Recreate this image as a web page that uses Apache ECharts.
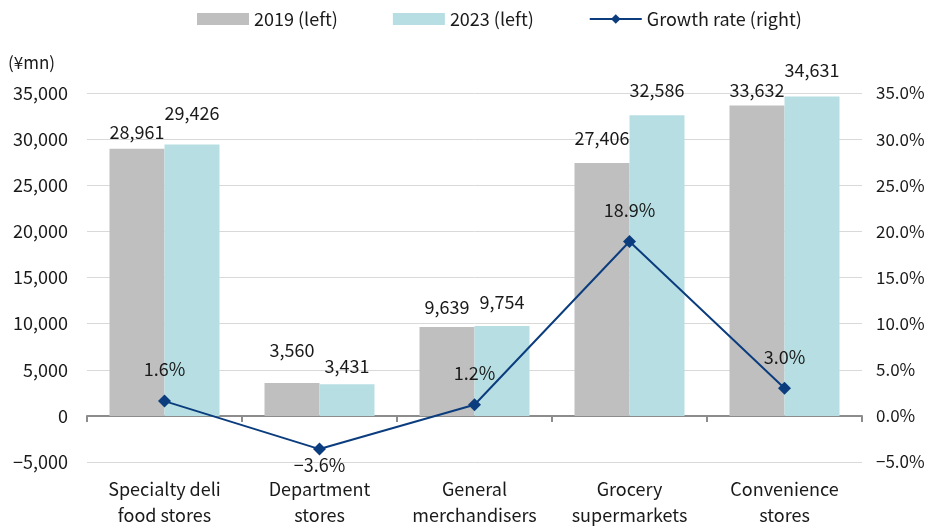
<!DOCTYPE html>
<html>
<head>
<meta charset="utf-8">
<script src="https://cdn.jsdelivr.net/npm/echarts@6/dist/echarts.min.js"></script>
<style>
  html, body { margin: 0; padding: 0; background: #fff; }
  #chart { width: 927px; height: 526px; }
</style>
</head>
<body>
<div id="chart"></div>
<script>
// Sales by store type (¥mn) and growth rate 2019 → 2023
const categories = ['Specialty deli\nfood stores', 'Department\nstores', 'General\nmerchandisers', 'Grocery\nsupermarkets', 'Convenience\nstores'];
const sales2019 = [28961, 3560, 9639, 27406, 33632];
const sales2023 = [29426, 3431, 9754, 32586, 34631];
const growthRate = [1.6, -3.6, 1.2, 18.9, 3.0];
const leftTicks = { min: -5000, max: 35000, interval: 5000 };
const rightTicks = { min: -5, max: 35, interval: 5 };

// hand-placed vertical nudges (px) for the value labels so neighbours don't collide
const nudge2019 = [-3, -19, -6, -11, -1];
const nudge2023 = [-17, -4, -10, -11, -12];

const FONT = '"Noto Sans CJK JP", "Noto Sans", sans-serif';
const TEXT = '#1a1a1a';
const MINUS = '\u2212';
const FS = 18;

function withMinus(s) { return s.replace(/^-/, MINUS); }
function fmtThousands(v) { return withMinus(Math.round(v).toLocaleString('en-US')); }
function fmtPct(v) { return withMinus(v.toFixed(1) + '%'); }

function barData(values, nudges) {
  return values.map((v, i) => ({ value: v, label: { offset: [0, nudges[i]] } }));
}

const chart = echarts.init(document.getElementById('chart'), null, { renderer: 'canvas' });

chart.setOption({
  animation: false,
  textStyle: { fontFamily: FONT, color: TEXT },
  legend: {
    top: 5,
    left: 192,
    itemGap: 55,
    itemWidth: 52,
    itemHeight: 12,
    textStyle: { fontFamily: FONT, fontSize: FS, color: TEXT },
    data: [
      { name: '2019 (left)', icon: 'rect' },
      { name: '2023 (left)', icon: 'rect' },
      { name: 'Growth rate (right)' }
    ]
  },
  grid: { left: 87, right: 65, top: 93, bottom: 64, containLabel: false, outerBoundsMode: 'none' },
  xAxis: [
    {
      // zero baseline with category-boundary ticks
      type: 'category',
      data: categories,
      axisLine: { onZero: true, lineStyle: { color: '#8c8c8c', width: 2 } },
      axisTick: { show: true, length: 6, lineStyle: { color: '#8c8c8c', width: 2 } },
      axisLabel: { show: false }
    },
    {
      // category names along the bottom edge
      type: 'category',
      data: categories,
      position: 'bottom',
      axisLine: { show: false, onZero: false },
      axisTick: { show: false },
      axisLabel: {
        margin: 14,
        fontFamily: FONT,
        fontSize: FS,
        color: TEXT,
        lineHeight: 26,
        interval: 0
      }
    }
  ],
  yAxis: [
    {
      type: 'value',
      min: leftTicks.min,
      max: leftTicks.max,
      interval: leftTicks.interval,
      name: '(¥mn)',
      nameLocation: 'end',
      nameGap: 22,
      nameTextStyle: { fontFamily: FONT, fontSize: 17, color: TEXT, align: 'left', padding: [0, 0, 0, -79] },
      axisLine: { show: false },
      axisTick: { show: false },
      axisLabel: { fontFamily: FONT, fontSize: FS, color: TEXT, margin: 19, formatter: fmtThousands },
      splitLine: { show: true, lineStyle: { color: '#d9d9d9', width: 1 } }
    },
    {
      type: 'value',
      min: rightTicks.min,
      max: rightTicks.max,
      interval: rightTicks.interval,
      position: 'right',
      axisLine: { show: false },
      axisTick: { show: false },
      axisLabel: { fontFamily: FONT, fontSize: 17, color: TEXT, margin: 14, formatter: fmtPct },
      splitLine: { show: false }
    }
  ],
  series: [
    {
      name: '2019 (left)',
      type: 'bar',
      xAxisIndex: 0,
      yAxisIndex: 0,
      data: barData(sales2019, nudge2019),
      barWidth: 55,
      barGap: '0%',
      itemStyle: { color: '#bfbfbf' },
      label: {
        show: true, position: 'top', distance: 5,
        fontFamily: FONT, fontSize: FS, color: TEXT,
        formatter: p => fmtThousands(p.value)
      },
      z: 2
    },
    {
      name: '2023 (left)',
      type: 'bar',
      xAxisIndex: 0,
      yAxisIndex: 0,
      data: barData(sales2023, nudge2023),
      barWidth: 55,
      barGap: '0%',
      itemStyle: { color: '#b7dfe3' },
      label: {
        show: true, position: 'top', distance: 5,
        fontFamily: FONT, fontSize: FS, color: TEXT,
        formatter: p => fmtThousands(p.value)
      },
      z: 2
    },
    {
      name: 'Growth rate (right)',
      type: 'line',
      xAxisIndex: 0,
      yAxisIndex: 1,
      data: growthRate.map(v => ({
        value: v,
        label: v < 0 ? { position: 'bottom', distance: 1 } : { position: 'top', distance: 16 }
      })),
      symbol: 'diamond',
      symbolSize: 13,
      lineStyle: { color: '#0b3d7e', width: 2 },
      itemStyle: { color: '#0b3d7e' },
      label: {
        show: true,
        fontFamily: FONT, fontSize: FS, color: TEXT,
        formatter: p => fmtPct(p.value)
      },
      z: 5
    }
  ]
});
</script>
</body>
</html>
